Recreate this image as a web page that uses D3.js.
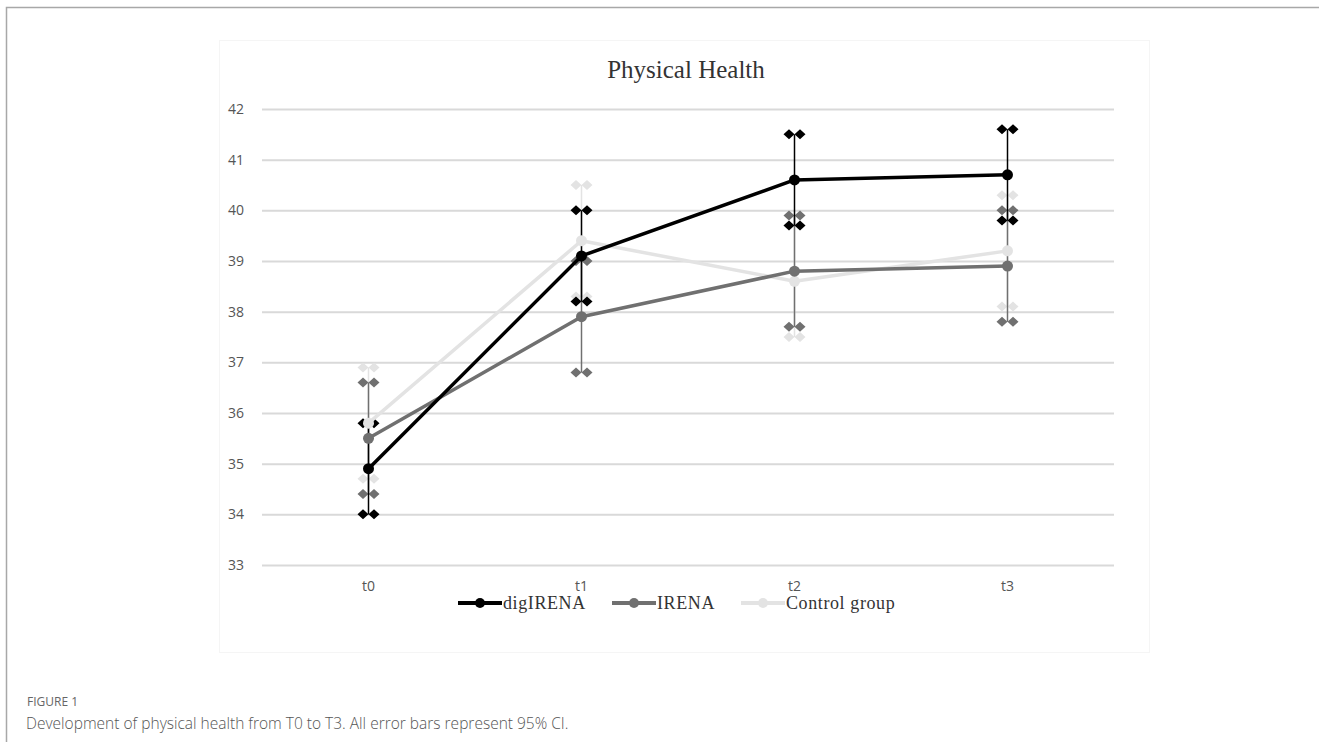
<!DOCTYPE html>
<html><head><meta charset="utf-8">
<script src="https://cdn.jsdelivr.net/npm/d3@7"></script>
<style>html,body{margin:0;padding:0;background:#fff;}svg{display:block;}</style>
</head><body>
<svg id="c" width="1319" height="742"></svg>
<script>
const categories = ["t0","t1","t2","t3"];
const yTicks = [33,34,35,36,37,38,39,40,41,42];
const seriesNames = ["digIRENA","IRENA","Control group"];
const digMean  = [34.9, 39.1, 40.6, 40.7];
const digLow   = [34.0, 38.2, 39.7, 39.8];
const digHigh  = [35.8, 40.0, 41.5, 41.6];
const irenaMean = [35.5, 37.9, 38.8, 38.9];
const irenaLow  = [34.4, 36.8, 37.7, 37.8];
const irenaHigh = [36.6, 39.0, 39.9, 40.0];
const ctrlMean = [35.8, 39.4, 38.6, 39.2];
const ctrlLow  = [34.7, 38.3, 37.5, 38.1];
const ctrlHigh = [36.9, 40.5, 39.7, 40.3];

const colors = ["#000000","#707070","#e3e3e3"];
const series = [
  {name:seriesNames[0], mean:digMean, low:digLow, high:digHigh, color:colors[0]},
  {name:seriesNames[1], mean:irenaMean, low:irenaLow, high:irenaHigh, color:colors[1]},
  {name:seriesNames[2], mean:ctrlMean, low:ctrlLow, high:ctrlHigh, color:colors[2]}
];

const svg = d3.select("#c");
// outer frame
svg.append("path").attr("d","M6.5,742 L6.5,7.5 L1319,7.5").attr("fill","none").attr("stroke","#a8a8a8").attr("stroke-width",1.5);
// faint chart image frame
svg.append("rect").attr("x",219.5).attr("y",40.5).attr("width",930).attr("height",612).attr("fill","none").attr("stroke","#f5f5f5").attr("stroke-width",1);

const x = d3.scaleBand().domain(categories).range([262,1114]);
const y = d3.scaleLinear().domain([33,42]).range([565,109]);
const cx = d => x(d) + x.bandwidth()/2;

// title
svg.append("text").attr("x",686).attr("y",78).attr("text-anchor","middle")
  .attr("font-family","Liberation Serif, serif").attr("font-size",25).attr("fill","#333").text("Physical Health");

// gridlines + y axis
const yAxis = d3.axisLeft(y).tickValues(yTicks).tickSize(-(1114-262)).tickPadding(18);
const gy = svg.append("g").attr("transform","translate(262,0)").call(yAxis);
gy.select(".domain").remove();
gy.selectAll(".tick line").attr("stroke","#d9d9d9").attr("stroke-width",2);
gy.selectAll(".tick text").attr("font-family","Open Sans, sans-serif").attr("font-size",14).attr("fill","#555");

// x axis labels
const xAxis = d3.axisBottom(x).tickSize(0).tickPadding(16);
const gx = svg.append("g").attr("transform","translate(0,565)").call(xAxis);
gx.select(".domain").remove();
gx.selectAll(".tick text").attr("font-family","Open Sans, sans-serif").attr("font-size",14).attr("fill","#555");

// cap shape: two diamonds side by side
function capPath(px, py){
  const h=5;
  return `M${px-11},${py} L${px-5.5},${py-h} L${px},${py} L${px-5.5},${py+h} Z ` +
         `M${px},${py} L${px+5.5},${py-h} L${px+11},${py} L${px+5.5},${py+h} Z`;
}

const order = [2,1,0];
// error bars
order.forEach(i => {
  const s = series[i];
  const g = svg.append("g");
  categories.forEach((c,j) => {
    g.append("line").attr("x1",cx(c)).attr("x2",cx(c)).attr("y1",y(s.low[j])).attr("y2",y(s.high[j]))
      .attr("stroke",s.color).attr("stroke-width",1.5);
    [s.low[j], s.high[j]].forEach(v => {
      g.append("path").attr("d",capPath(cx(c), y(v))).attr("fill",s.color);
    });
  });
});
// lines
const line = d3.line().x((d,j)=>cx(categories[j])).y(d=>y(d));
order.forEach(i => {
  const s = series[i];
  svg.append("path").datum(s.mean).attr("d",line).attr("fill","none")
    .attr("stroke",s.color).attr("stroke-width",3.5).attr("stroke-linejoin","round");
});
// markers
order.forEach(i => {
  const s = series[i];
  svg.append("g").selectAll("circle").data(s.mean).join("circle")
    .attr("cx",(d,j)=>cx(categories[j])).attr("cy",d=>y(d)).attr("r",5.5).attr("fill",s.color);
});

// legend
const legendX = [458, 612, 741];
const legendW = 44;
series.forEach((s,i) => {
  const lx = legendX[i], ly = 603;
  svg.append("line").attr("x1",lx).attr("x2",lx+legendW).attr("y1",ly).attr("y2",ly)
    .attr("stroke",s.color).attr("stroke-width",4);
  svg.append("circle").attr("cx",lx+legendW/2).attr("cy",ly).attr("r",5).attr("fill",s.color);
  svg.append("text").attr("x",lx+legendW+1).attr("y",ly+6)
    .attr("font-family","Liberation Serif, serif").attr("font-size",18).attr("letter-spacing",0.6)
    .attr("fill","#333").text(s.name);
});

// caption
svg.append("text").attr("x",27).attr("y",706).attr("font-family","Open Sans, sans-serif")
  .attr("font-size",12).attr("fill","#666").text("FIGURE 1");
svg.append("text").attr("x",26).attr("y",729).attr("font-family","Open Sans, sans-serif")
  .attr("font-size",15.5).attr("font-weight",300).attr("fill","#555")
  .text("Development of physical health from T0 to T3. All error bars represent 95% CI.");
</script>
</body></html>
